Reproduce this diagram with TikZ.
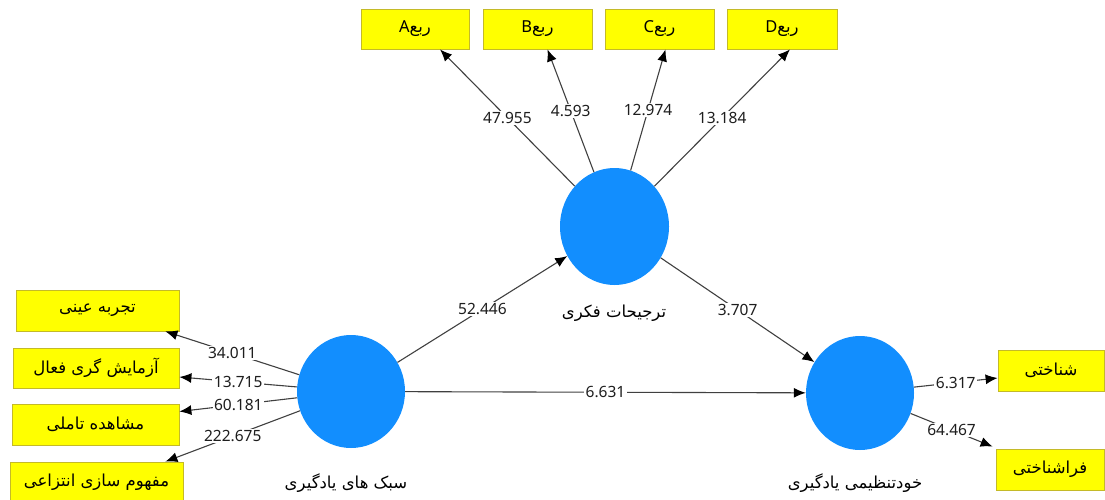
\documentclass[tikz,border=0pt]{standalone}
\usepackage{fontspec}
\setmainfont{Noto Sans}
\newfontfamily\fa[Script=Arabic]{DejaVu Sans}
\TeXXeTstate=1
\usetikzlibrary{shapes.geometric,arrows.meta}
\definecolor{lvblue}{RGB}{18,142,254}
\definecolor{indyellow}{RGB}{255,255,0}
\definecolor{indborder}{RGB}{196,186,40}
\definecolor{pathgray}{RGB}{64,64,64}
\definecolor{coeftext}{RGB}{30,30,30}
\newcommand{\fatext}[1]{{\fa\beginR #1\endR}}

\begin{document}
\begin{tikzpicture}[x=1pt,y=-1pt,
  latent/.style={ellipse, fill=lvblue, inner sep=0pt},
  indicator/.style={rectangle, fill=indyellow, draw=indborder, line width=0.8pt,
    inner sep=0pt, font=\fontsize{16.5}{18}\selectfont},
  conn/.style={draw=pathgray, line width=1.1pt,
    -{Latex[length=12pt,width=10pt,color=black]}},
  coef/.style={fill=white, inner sep=1.5pt, text=coeftext,
    font=\fontsize{15.5}{17}\selectfont},
  lvlabel/.style={font=\fontsize{16.5}{18}\selectfont}
]
\useasboundingbox (0,0) rectangle (1105,500);

% latent variables
\node[latent, minimum width=109pt, minimum height=117pt] (ltr) at (614.5,226.5) {};
\node[latent, minimum width=108pt, minimum height=113pt] (sbk) at (351,391.5) {};
\node[latent, minimum width=108pt, minimum height=114pt] (khd) at (860,393) {};

\node[lvlabel] (ltrlab) at (614,313) {\fatext{ترجیحات فکری}};
\node[lvlabel] (sbklab) at (346,483) {\fatext{سبک های یادگیری}};
\node[lvlabel] (khdlab) at (855,483) {\fatext{خودتنظیمی یادگیری}};

% indicators of the upper construct
\node[indicator, minimum width=108pt, minimum height=40pt] (A) at (415,29) {A\fatext{ربع}};
\node[indicator, minimum width=109pt, minimum height=40pt] (B) at (537.5,29) {B\fatext{ربع}};
\node[indicator, minimum width=109pt, minimum height=40pt] (C) at (659.5,29) {C\fatext{ربع}};
\node[indicator, minimum width=110pt, minimum height=40pt] (D) at (782,29) {D\fatext{ربع}};

% indicators of the left construct
\node[indicator, minimum width=163pt, minimum height=41pt] (t1) at (97.5,310.5) {\fatext{تجربه عینی}};
\node[indicator, minimum width=166pt, minimum height=40pt] (t2) at (96,368) {\fatext{آزمایش گری فعال}};
\node[indicator, minimum width=167pt, minimum height=41pt] (t3) at (95.5,424.5) {\fatext{مشاهده تاملی}};
\node[indicator, minimum width=173pt, minimum height=40pt] (t4) at (96.5,482) {\fatext{مفهوم سازی انتزاعی}};

% indicators of the right construct
\node[indicator, minimum width=106pt, minimum height=41pt] (r1) at (1051,370.5) {\fatext{شناختی}};
\node[indicator, minimum width=108pt, minimum height=41pt] (r2) at (1050,469.5) {\fatext{فراشناختی}};

% outer loadings
\draw[conn] (ltr) -- node[coef] {47.955} ([xshift=25pt]A.south);
\draw[conn] (ltr) -- node[coef] {4.593} ([xshift=10pt]B.south);
\draw[conn] (ltr) -- node[coef] {12.974} ([xshift=6pt]C.south);
\draw[conn] (ltr) -- node[coef] {13.184} ([xshift=8pt]D.south);

\draw[conn] (sbk) -- node[coef] {34.011} ([xshift=-14pt]t1.south east);
\draw[conn] (sbk) -- node[coef] {13.715} ([yshift=-9pt]t2.east);
\draw[conn] (sbk) -- node[coef] {60.181} ([yshift=13pt]t3.east);
\draw[conn] (sbk) -- node[coef] {222.675} ([xshift=-18pt]t4.north east);

\draw[conn] (khd) -- node[coef] {6.317} ([yshift=-7.5pt]r1.west);
\draw[conn] (khd) -- node[coef] {64.467} ([xshift=-3pt,yshift=2pt]r2.north west);

% structural paths
\draw[conn] (sbk) -- node[coef] {52.446} (ltr);
\draw[conn] (ltr) -- node[coef] {3.707} (khd);
\draw[conn] (sbk) -- node[coef] {6.631} (khd);
\end{tikzpicture}
\end{document}
